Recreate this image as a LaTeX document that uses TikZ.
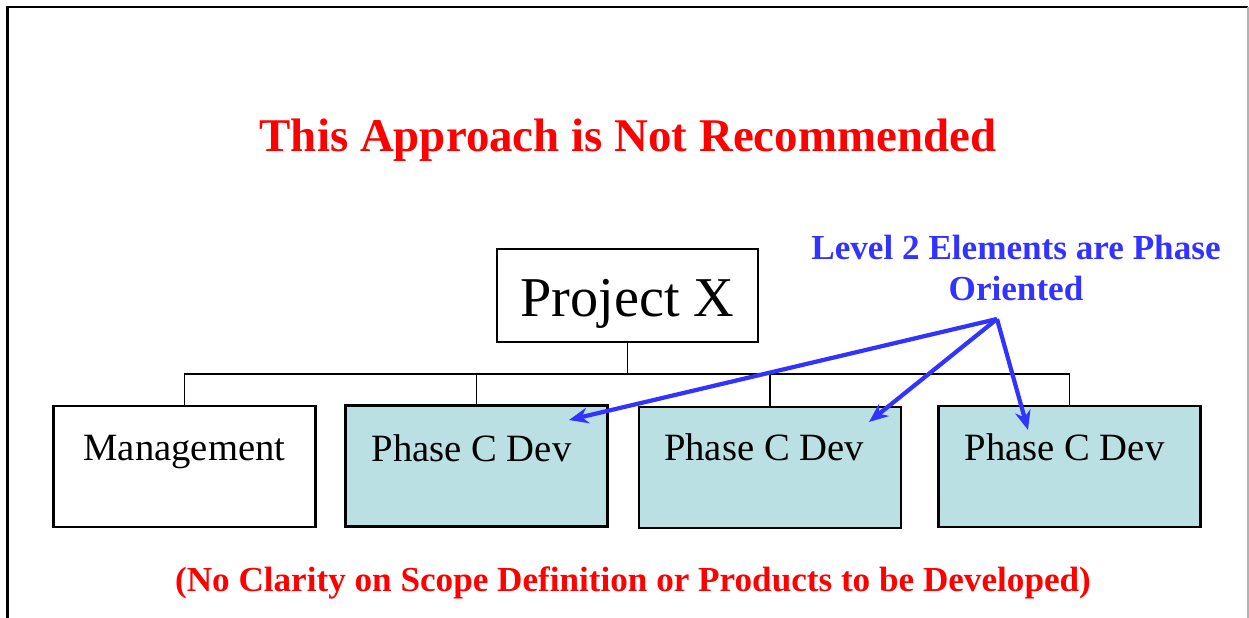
\documentclass[tikz,border=0pt]{standalone}
\usepackage{fontspec}
\setmainfont{Liberation Serif}
\usepackage{tikz}
\usetikzlibrary{arrows.meta, positioning}

\definecolor{phasefill}{RGB}{186,224,227}
\definecolor{noteblue}{RGB}{51,51,255}

\begin{document}
\begin{tikzpicture}[x=0.02cm, y=-0.02cm,
    element/.style={rectangle, draw, line width=1.6pt, minimum width=5.24cm, minimum height=2.42cm},
    phase/.style={element, fill=phasefill},
    elemtext/.style={anchor=base, inner sep=0pt, font=\fontsize{22}{26}\selectfont},
    note/.style={text=noteblue, font=\bfseries\fontsize{20}{23.5}\selectfont, align=center},
    pointer/.style={noteblue, line width=2.4pt, -{Stealth[length=11pt, width=9pt]}}]
        \useasboundingbox (0,0) rectangle (1249,618);

        % frame
        \draw[line width=1.7pt] (7.5,630) -- (7.5,7) -- (1248,7);
        \draw[gray!60, line width=0.6pt] (1248,7) -- (1248,630);

        \node[red, anchor=base, font=\bfseries\fontsize{26.7}{30}\selectfont] (title)
              at (628,152) {This Approach is Not Recommended};

        \node[element, minimum width=5.22cm, minimum height=1.86cm,
              text height=25pt, text depth=0.6pt,
              font=\fontsize{32}{36}\selectfont] (root) at (627.5,295.5) {Project X};

        \node[element] (mgmt) at (184.5,466.5) {};
        \node[phase] (p1) at (476.5,466) {};
        \node[phase] (p2) at (770,467.5) {};
        \node[phase] (p3) at (1069.5,466.5) {};

        \node[elemtext] (mgmt_t) at ([yshift=-1.12cm]mgmt.north) {Management};
        \node[elemtext] (p1_t) at ([xshift=-0.1cm, yshift=-1.14cm]p1.north) {Phase C Dev};
        \node[elemtext] (p2_t) at ([xshift=-0.12cm, yshift=-1.1cm]p2.north) {Phase C Dev};
        \node[elemtext] (p3_t) at ([xshift=-0.1cm, yshift=-1.12cm]p3.north) {Phase C Dev};

        \coordinate (bus) at (627.5,374);
        \draw[line width=1.1pt] (root.south) -- (bus);
        \foreach \n in {mgmt, p1, p2, p3}
            \draw[line width=1.1pt] (bus) -| (\n.north);

        \node[note] (level) at (1016,268) {Level 2 Elements are Phase\\Oriented};

        \coordinate (src) at (997,319);
        \coordinate (tip1) at (569,420);
        \coordinate (tip2) at (869,422);
        \coordinate (tip3) at (1028,430);

         \draw[pointer] (src) -- (tip1);
         \draw[pointer] (src) -- (tip2);
         \draw[pointer] (src) -- (tip3);

        \node[red, anchor=base, font=\bfseries\fontsize{20}{24}\selectfont] (scope)
              at (633,592) {(No Clarity on Scope Definition or Products to be Developed)};

    \end{tikzpicture}
\end{document}
